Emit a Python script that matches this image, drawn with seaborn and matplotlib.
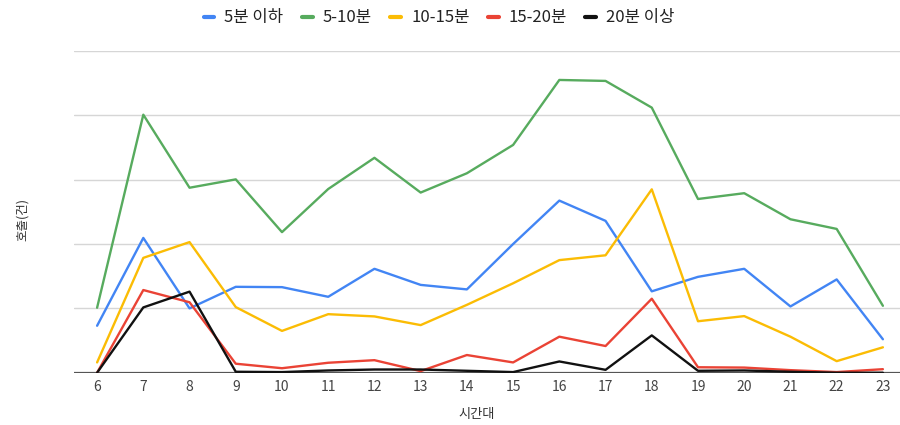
import matplotlib
matplotlib.use("Agg")
import matplotlib.pyplot as plt
import seaborn as sns
import pandas as pd

hours = list(range(6, 24))
series_names = ["5분 이하", "5-10분", "10-15분", "15-20분", "20분 이상"]

under_5 = [14.6, 41.9, 20.0, 26.7, 26.6, 23.6, 32.3, 27.3, 25.9, 40.0,
           53.5, 47.2, 25.3, 29.8, 32.3, 20.6, 29.0, 10.4]
from_5_to_10 = [20.2, 80.2, 57.5, 60.1, 43.7, 57.1, 66.8, 56.0, 62.0, 70.8,
                91.0, 90.7, 82.4, 54.0, 55.8, 47.7, 44.7, 20.8]
from_10_to_15 = [3.2, 35.7, 40.6, 20.4, 13.0, 18.2, 17.5, 14.8, 21.1, 27.8,
                 35.0, 36.5, 57.0, 16.0, 17.6, 11.2, 3.6, 7.9]
from_15_to_20 = [0.0, 25.7, 21.9, 2.8, 1.4, 3.1, 3.9, 0.5, 5.5, 3.2,
                 11.2, 8.3, 23.0, 1.7, 1.6, 0.8, 0.2, 1.1]
over_20 = [0.0, 20.3, 25.2, 0.3, 0.2, 0.7, 1.0, 1.0, 0.6, 0.2,
           3.5, 0.9, 11.6, 0.6, 0.7, 0.3, 0.0, 0.0]

colors = ["#4285F4", "#57AB5E", "#FBBC04", "#EA4335", "#111111"]

frames = []
for name, vals in zip(series_names,
                      [under_5, from_5_to_10, from_10_to_15, from_15_to_20, over_20]):
    frames.append(pd.DataFrame({"시간대": hours, "호출": vals, "구분": name}))
df = pd.concat(frames, ignore_index=True)

sns.set_theme(style="white")
plt.rcParams["font.family"] = ["Noto Sans CJK KR", "DejaVu Sans"]

fig = plt.figure(figsize=(9, 4.25), dpi=100)
ax = fig.add_axes([0.0822, 0.123, 0.9178, 0.757])

sns.lineplot(data=df, x="시간대", y="호출", hue="구분", hue_order=series_names,
             palette=colors, linewidth=1.7, ax=ax, legend=False, zorder=3)

ax.set_xlim(5.5, 23.37)
ax.set_ylim(0, 100)
ax.set_xticks(hours)
ax.set_xticklabels([str(h) for h in hours], fontsize=10, color="#444444")
ax.set_yticks([20, 40, 60, 80, 100])
ax.set_yticklabels([])
ax.tick_params(axis="both", length=0, pad=5)
for s in ax.spines.values():
    s.set_visible(False)
ax.grid(axis="y", color="#d6d6d6", linewidth=1.0, zorder=0)
ax.grid(axis="x", visible=False)
ax.axhline(0, color="#555555", linewidth=1.6, zorder=2)

ax.set_xlabel("시간대", fontsize=9.5, color="#333333")
ax.xaxis.set_label_coords(0.487, -0.11)
ax.set_ylabel("호출(건)", fontsize=9, color="#333333")
ax.yaxis.set_label_coords(-0.055, 0.475)

handles = [plt.Line2D([], [], color=c, linewidth=3) for c in colors]
fig.legend(handles, series_names, loc="center", bbox_to_anchor=(0.488, 0.958),
           ncol=5, frameon=False, fontsize=12, handlelength=0.65,
           handletextpad=0.6, columnspacing=1.1, labelcolor="#222222")

fig.savefig("out.png", dpi=100)
